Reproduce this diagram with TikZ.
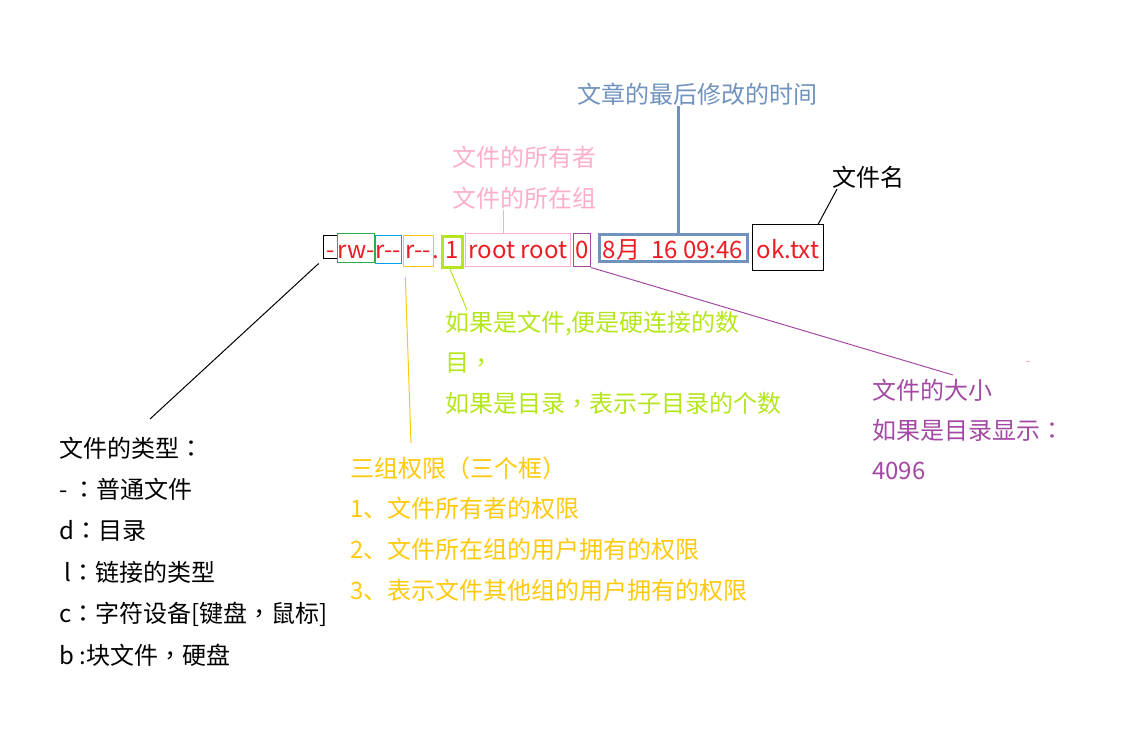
\documentclass[tikz,border=0pt]{standalone}
\usepackage{fontspec}
\setmainfont{Noto Sans CJK SC}
\newfontfamily\tcfont{Noto Sans CJK TC}
\usepackage{tikz}
\definecolor{lsred}{RGB}{237,28,36}
\definecolor{lsgreen}{RGB}{34,177,76}
\definecolor{lsblue}{RGB}{0,162,232}
\definecolor{perm}{RGB}{255,201,14}
\definecolor{lime}{RGB}{181,230,29}
\definecolor{owner}{RGB}{255,174,201}
\definecolor{size}{RGB}{163,73,164}
\definecolor{mtime}{RGB}{112,146,190}
\newcommand\notesize{\fontsize{24pt}{30pt}\selectfont}
\newcommand\lssize{\fontsize{24pt}{28pt}\selectfont}
% centred full-width colon and comma
\newcommand\fcolon{{\tcfont ：}}
\newcommand\fcomma{{\tcfont ，}}
\tikzstyle{note} = [inner sep=0pt, anchor=base west, font=\notesize]
\tikzstyle{cell} = [draw, line width=1pt, inner sep=0pt, anchor=base west, text=lsred, font=\lssize]
\tikzstyle{pointer} = [line width=1pt]

\begin{document}
\begin{tikzpicture}[x=1pt, y=-1pt]
    \useasboundingbox (0,0) rectangle (1144,730);
    % the ls -l line
    \node[cell, draw=black, minimum width=14pt, text height=23pt, text depth=0pt] (dash) at (323,259) {-};
    \node[cell, draw=lsgreen, minimum width=36pt, text height=25pt, text depth=4pt] (rw) at (337,259) {rw-};
    \node[cell, draw=lsblue, minimum width=26pt, text height=23pt, text depth=5pt] (rgrp) at (375,259) {r-{}-};
    \node[cell, draw=perm, minimum width=30pt, text height=23pt, text depth=8pt] (roth) at (403,259) {r-{}-};
    \node[cell, draw=none] (dot) at (432,259) {.};
    \node[cell, draw=lime, line width=3pt, minimum width=20pt, text height=22.5pt, text depth=8.5pt] (one) at (440.5,259) {1};
    \node[cell, draw=owner, minimum width=105pt, text height=25pt, text depth=8pt] (ids) at (465,259) {root root};
    \node[cell, draw=size, minimum width=17pt, text height=25pt, text depth=8pt] (zero) at (573,259) {0};
    \node[cell, draw=mtime, line width=3pt, minimum width=148pt, text height=24.5pt, text depth=2.5pt] (time) at (597.5,259) {8月\ \ 16 09:46};
    \node[cell, draw=black, minimum width=71pt, text height=34pt, text depth=12pt] (name) at (752,259) {ok.txt};

    % labels
    \node[note, text=mtime] (timeLbl) at (577,104) {文章的最后修改的时间};
    \foreach \t [count=\i] in {文件的所有者,文件的所在组}
        \node[note, text=owner] (owner\i) at (452,126+41*\i) {\t};
    \node[note] (nameLbl) at (832,187) {文件名};
    \foreach \t [count=\i] in {{如果是文件,便是硬连接的数},目\fcomma,如果是目录\fcomma 表示子目录的个数}
        \node[note, text=lime] (link\i) at (445,290.5+40.5*\i) {\t};
    \foreach \t [count=\i] in {文件的大小,如果是目录显示\fcolon,4096}
        \node[note, text=size] (size\i) at (872,359+40*\i) {\t};
    \foreach \t [count=\i] in {文件的类型\fcolon,-\ \fcolon 普通文件,d\fcolon 目录,{\ l\fcolon 链接的类型},c\fcolon 字符设备[键盘\fcomma 鼠标],b :块文件\fcomma 硬盘}
        \node[note] (type\i) at (59,415.6+41.4*\i) {\t};
    \foreach \t [count=\i] in {三组权限（三个框）,1、文件所有者的权限,2、文件所在组的用户拥有的权限,3、表示文件其他组的用户拥有的权限}
        \node[note, text=perm] (perm\i) at (350,436.3+40.7*\i) {\t};

    % pointers
    \coordinate (typeEnd) at (150,419);
    \coordinate (permEnd) at (411,443);
    \coordinate (linkEnd) at (467,310);
    \coordinate (sizeEnd) at (953,375);
    \draw[pointer, shorten <=6pt] (dash.south west) -- (typeEnd);
    \draw[pointer, perm, shorten <=10pt] ([xshift=2pt]roth.south west) -- (permEnd);
    \draw[pointer, lime] ([xshift=-2pt]one.south) -- (linkEnd);
    \draw[pointer, owner] ([xshift=-14.5pt]ids.north) -- ([xshift=-14.5pt]ids.north |- owner2.south);
    \draw[pointer, size] (zero.south east) -- (sizeEnd);
    \draw[pointer, mtime, line width=3pt] ([xshift=5pt]time.north) -- ([xshift=5pt]time.north |- timeLbl.south);
    \draw[pointer] ([xshift=-6pt]name.north east) -- ([xshift=5pt]nameLbl.south west);
    \draw[owner] (1026,361) -- (1030,361);
\end{tikzpicture}
\end{document}
